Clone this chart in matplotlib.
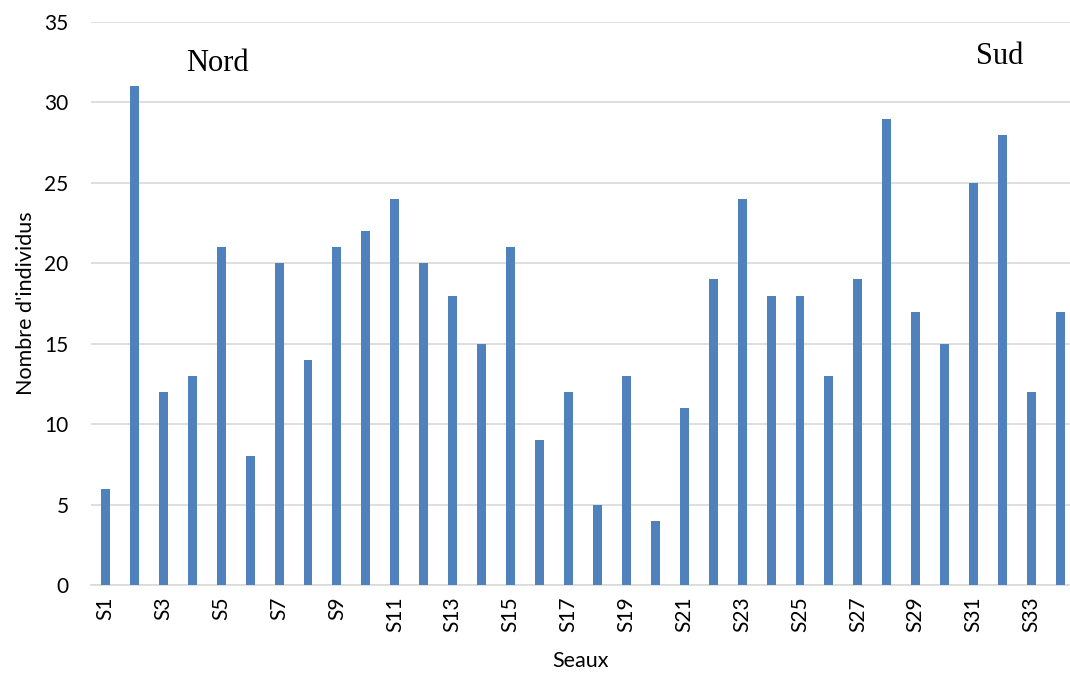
import matplotlib
matplotlib.use("Agg")
import matplotlib.pyplot as plt

seaux = ["S%d" % i for i in range(1, 35)]
individus = [6, 31, 12, 13, 21, 8, 20, 14, 21, 22, 24, 20, 18, 15, 21, 9, 12, 5,
             13, 4, 11, 19, 24, 18, 18, 13, 19, 29, 17, 15, 25, 28, 12, 17]
yticks = [0, 5, 10, 15, 20, 25, 30, 35]

plt.rcParams['font.family'] = ['Lato', 'DejaVu Sans']

fig = plt.figure(figsize=(10.7, 6.75), dpi=100)
ax = fig.add_axes([0.085, 0.1333, 0.915, 0.834])

x = list(range(len(seaux)))
ax.bar(x, individus, width=0.31, color='#4F81BD', zorder=3)

ax.set_ylim(0, 35)
ax.set_xlim(-0.5, 33.33)
ax.set_yticks(yticks)
ax.set_xticks(x[::2])
ax.set_xticklabels(seaux[::2], rotation=90)
ax.tick_params(axis='both', length=0, labelsize=15, colors='black')
ax.tick_params(axis='x', pad=8)
ax.tick_params(axis='y', pad=16)
ax.grid(axis='y', color='#D9D9D9', linewidth=1.2, zorder=0)

for s in ['top', 'right', 'left']:
    ax.spines[s].set_visible(False)
ax.spines['bottom'].set_color('#D9D9D9')
ax.spines['bottom'].set_linewidth(1.2)

ax.set_ylabel("Nombre d'individus", fontsize=15.5, labelpad=6)
ax.set_xlabel("Seaux", fontsize=15.5, labelpad=14)

fig.text(0.203, 0.906, "Nord", family='Liberation Serif', fontsize=22,
         ha='center', va='center')
fig.text(0.934, 0.917, "Sud", family='Liberation Serif', fontsize=22,
         ha='center', va='center')

fig.savefig("out.png", dpi=100)
